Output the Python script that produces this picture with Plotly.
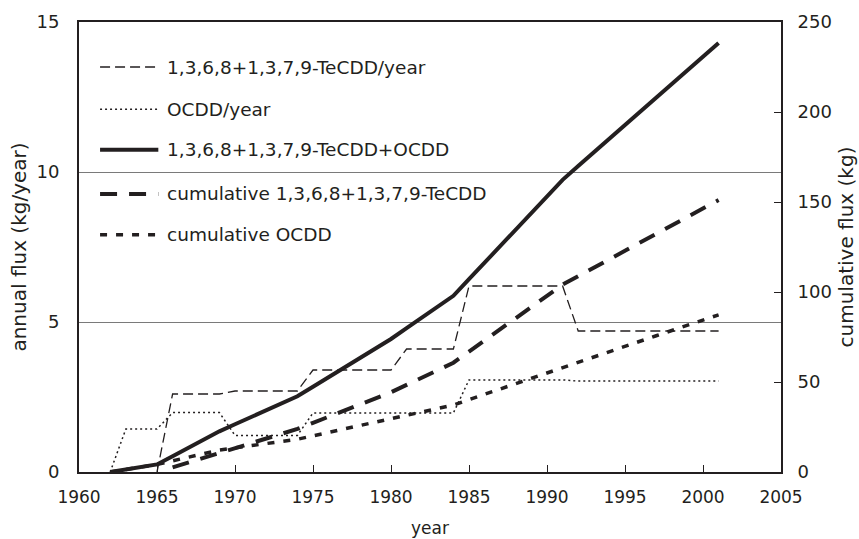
import plotly.graph_objects as go

# ---- data -------------------------------------------------------------
years_tecdd_annual = list(range(1965, 2002))
tecdd_annual = [0.0,
                2.6, 2.6, 2.6, 2.6,
                2.7, 2.7, 2.7, 2.7, 2.7,
                3.4, 3.4, 3.4, 3.4, 3.4, 3.4,
                4.1, 4.1, 4.1, 4.1,
                6.2, 6.2, 6.2, 6.2, 6.2, 6.2, 6.2,
                4.7, 4.7, 4.7, 4.7, 4.7, 4.7, 4.7, 4.7, 4.7, 4.7]

years_ocdd_annual = list(range(1962, 2002))
ocdd_annual = [0.0, 1.43, 1.43, 1.43,
               1.98, 1.98, 1.98, 1.98,
               1.22, 1.22, 1.22, 1.22, 1.22,
               1.97, 1.97, 1.97, 1.97, 1.97, 1.97, 1.97, 1.97, 1.97, 1.97,
               3.07, 3.07, 3.07, 3.07, 3.07, 3.07, 3.07,
               3.03, 3.03, 3.03, 3.03, 3.03, 3.03, 3.03, 3.03, 3.03, 3.03]

years_total = list(range(1962, 2002))
total_cumulative = [0.0, 1.4, 2.8, 4.2,
                    8.8, 13.4, 18.0, 22.6,
                    26.5, 30.4, 34.3, 38.2, 42.1,
                    47.4, 52.7, 58.0, 63.3, 68.6, 73.9,
                    79.9, 85.9, 91.9, 97.9,
                    107.1, 116.3, 125.5, 134.7, 143.9, 153.1, 162.3,
                    170.0, 177.6, 185.2, 192.8, 200.4, 208.0, 215.6,
                    223.2, 230.8, 238.4]

years_tecdd_cum = list(range(1966, 2002))
tecdd_cumulative = [2.6, 5.2, 7.8, 10.4,
                    13.1, 15.8, 18.5, 21.2, 23.9,
                    27.3, 30.7, 34.1, 37.5, 40.9, 44.3,
                    48.4, 52.5, 56.6, 60.7,
                    66.9, 73.1, 79.3, 85.5, 91.7, 97.9, 104.1,
                    108.8, 113.5, 118.2, 122.9, 127.6, 132.3, 137.0,
                    141.7, 146.4, 151.1]

years_ocdd_cum = list(range(1962, 2002))
ocdd_cumulative = [0.0, 1.4, 2.8, 4.2,
                   6.2, 8.2, 10.2, 12.2,
                   13.4, 14.6, 15.8, 17.0, 18.2,
                   20.1, 22.0, 23.9, 25.8, 27.7, 29.6, 31.5, 33.4, 35.3, 37.2,
                   40.2, 43.2, 46.2, 49.2, 52.2, 55.2, 58.2,
                   61.2, 64.1, 67.0, 69.9, 72.8, 75.7, 78.6, 81.5, 84.4, 87.3]

series_names = ["1,3,6,8+1,3,7,9-TeCDD/year",
                "OCDD/year",
                "1,3,6,8+1,3,7,9-TeCDD+OCDD",
                "cumulative 1,3,6,8+1,3,7,9-TeCDD",
                "cumulative OCDD"]

x_ticks = list(range(1960, 2006, 5))
left_ticks = [0, 5, 10, 15]
right_ticks = [0, 50, 100, 150, 200, 250]

# ---- styling ----------------------------------------------------------
INK = "#231f20"
FONT = "DejaVu Sans"

styles = [
    dict(width=1.3, dash="10px,5px"),    # annual TeCDD
    dict(width=1.5, dash="2px,3px"),     # annual OCDD
    dict(width=4.0, dash="solid"),       # cumulative total
    dict(width=4.0, dash="17px,12px"),   # cumulative TeCDD
    dict(width=3.5, dash="7px,9px"),     # cumulative OCDD
]

fig = go.Figure()

fig.add_trace(go.Scatter(x=years_tecdd_annual, y=tecdd_annual, mode="lines",
                         name=series_names[0], yaxis="y",
                         line=dict(color=INK, **styles[0])))
fig.add_trace(go.Scatter(x=years_ocdd_annual, y=ocdd_annual, mode="lines",
                         name=series_names[1], yaxis="y",
                         line=dict(color=INK, **styles[1])))
fig.add_trace(go.Scatter(x=years_tecdd_cum, y=tecdd_cumulative, mode="lines",
                         name=series_names[3], yaxis="y2",
                         line=dict(color=INK, **styles[3])))
fig.add_trace(go.Scatter(x=years_ocdd_cum, y=ocdd_cumulative, mode="lines",
                         name=series_names[4], yaxis="y2",
                         line=dict(color=INK, **styles[4])))
fig.add_trace(go.Scatter(x=years_total, y=total_cumulative, mode="lines",
                         name=series_names[2], yaxis="y2",
                         line=dict(color=INK, **styles[2])))

# ---- legend drawn inside the plot area ---------------------------------
legend_rows_y = [0.900, 0.806, 0.716, 0.618, 0.527]
sample_x0, sample_x1, text_x = 0.030, 0.113, 0.123
shapes = []
annotations = []
for name, st, yy in zip(series_names, styles, legend_rows_y):
    shapes.append(dict(type="line", xref="paper", yref="paper",
                       x0=sample_x0, x1=sample_x1, y0=yy, y1=yy,
                       line=dict(color=INK, width=st["width"], dash=st["dash"])))
    annotations.append(dict(xref="paper", yref="paper", x=text_x, y=yy,
                            text=name, showarrow=False, xanchor="left",
                            yanchor="middle",
                            font=dict(family=FONT, size=18.5, color=INK)))

fig.update_layout(
    width=859, height=539,
    margin=dict(l=79, r=78, t=22, b=67),
    paper_bgcolor="white", plot_bgcolor="white",
    showlegend=False,
    font=dict(family=FONT, size=17, color=INK),
    shapes=shapes,
    annotations=annotations,
    xaxis=dict(range=[1960, 2005], tickvals=x_ticks, automargin=False,
               ticks="inside", ticklen=7, tickwidth=1, tickcolor=INK,
               ticklabelstandoff=9,
               tickfont=dict(family=FONT, size=17, color=INK),
               showline=True, linecolor=INK, linewidth=2, mirror=True,
               showgrid=False, zeroline=False,
               title=dict(text="year", standoff=16,
                          font=dict(family=FONT, size=17, color=INK))),
    yaxis=dict(range=[0, 15], tickvals=left_ticks, ticks="", automargin=False,
               ticklabelstandoff=14,
               tickfont=dict(family=FONT, size=18, color=INK),
               showline=True, linecolor=INK, linewidth=2,
               showgrid=True, gridcolor="#7a7a7a", gridwidth=1,
               zeroline=False,
               title=dict(text="annual flux (kg/year)", standoff=4,
                          font=dict(family=FONT, size=20, color=INK))),
    yaxis2=dict(range=[0, 250], tickvals=right_ticks, overlaying="y",
                side="right", ticks="inside", ticklen=7, tickwidth=1,
                automargin=False,
                tickcolor=INK, ticklabelstandoff=11,
                tickfont=dict(family=FONT, size=18, color=INK),
                showline=True, linecolor=INK, linewidth=2,
                showgrid=False, zeroline=False,
                title=dict(text="cumulative flux (kg)", standoff=8,
                           font=dict(family=FONT, size=20, color=INK))),
)

fig.write_html("out.html")
